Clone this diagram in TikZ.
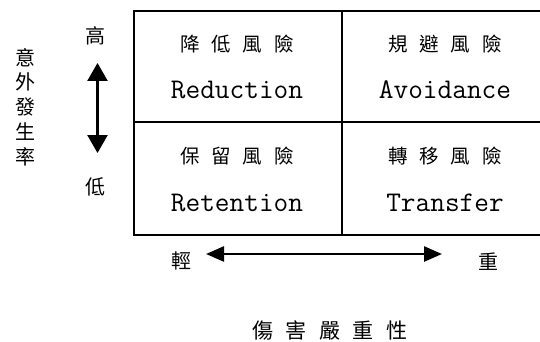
\documentclass[tikz,border=0pt]{standalone}
\usepackage{fontspec}
\newfontfamily\cjk{Noto Sans CJK TC}
\usetikzlibrary{arrows.meta}
\newcommand\qgap{\kern12pt}
\newcommand\tgap{\kern12.5pt}
\begin{document}
\begin{tikzpicture}[x=1pt,y=-1pt,
  cjkq/.style={font=\cjk\fontsize{19.5}{20}\selectfont, inner sep=0pt},
  cjkl/.style={font=\cjk\fontsize{20}{20}\selectfont, inner sep=0pt},
  latq/.style={font=\ttfamily\fontsize{28.5}{28.5}\selectfont, inner sep=0pt, anchor=base},
  frame/.style={line width=2.5pt},
  divider/.style={line width=1.5pt},
  dblarrow/.style={line width=2.5pt}]
\useasboundingbox (0,0) rectangle (540,342);
\clip (0,0) rectangle (540,342);
\fill[white] (0,0) rectangle (540,342);
% matrix frame
\coordinate (tl) at (134,11);
\coordinate (br) at (546,235);
\coordinate (mt) at (342,11);
\coordinate (mb) at (342,235);
\coordinate (ml) at (134,122);
\coordinate (mr) at (546,122);
\draw[divider] (mt) -- (mb);
\draw[divider] (ml) -- (mr);
\draw[frame] (tl) rectangle (br);
% quadrant texts
\node[cjkq] (q1c) at (237,44) {降\qgap{}低\qgap{}風\qgap{}險};
\node[latq] (q1e) at (237,99) {Reduction};
\node[cjkq] (q2c) at (445,44) {規\qgap{}避\qgap{}風\qgap{}險};
\node[latq] (q2e) at (445,99) {Avoidance};
\node[cjkq] (q3c) at (237,156) {保\qgap{}留\qgap{}風\qgap{}險};
\node[latq] (q3e) at (237,211) {Retention};
\node[cjkq] (q4c) at (445,156) {轉\qgap{}移\qgap{}風\qgap{}險};
\node[latq] (q4e) at (445,211) {Transfer};
% vertical axis
\node[cjkl] (high) at (95,36) {高};
\node[cjkl] (low) at (95,187) {低};
\coordinate (vtop) at (97.5,63);
\coordinate (vbot) at (97.5,153);
\draw[dblarrow, {Triangle[length=18pt,width=20pt]}-{Triangle[length=18pt,width=20pt]}] (vtop) -- (vbot);
\node[cjkl, align=center, font=\cjk\fontsize{20}{24.75}\selectfont] (ylab) at (26,107) {意\\外\\發\\生\\率};
% horizontal axis
\node[cjkl] (light) at (181,261) {輕};
\node[cjkl] (heavy) at (488,262) {重};
\coordinate (hleft) at (206,254);
\coordinate (hright) at (442,254);
\draw[dblarrow, {Triangle[length=18pt,width=15pt]}-{Triangle[length=18pt,width=15pt]}] (hleft) -- (hright);
\node[cjkl, font=\cjk\fontsize{21}{21}\selectfont] (xlab) at (330,331) {傷\tgap{}害\tgap{}嚴\tgap{}重\tgap{}性};
\end{tikzpicture}
\end{document}
